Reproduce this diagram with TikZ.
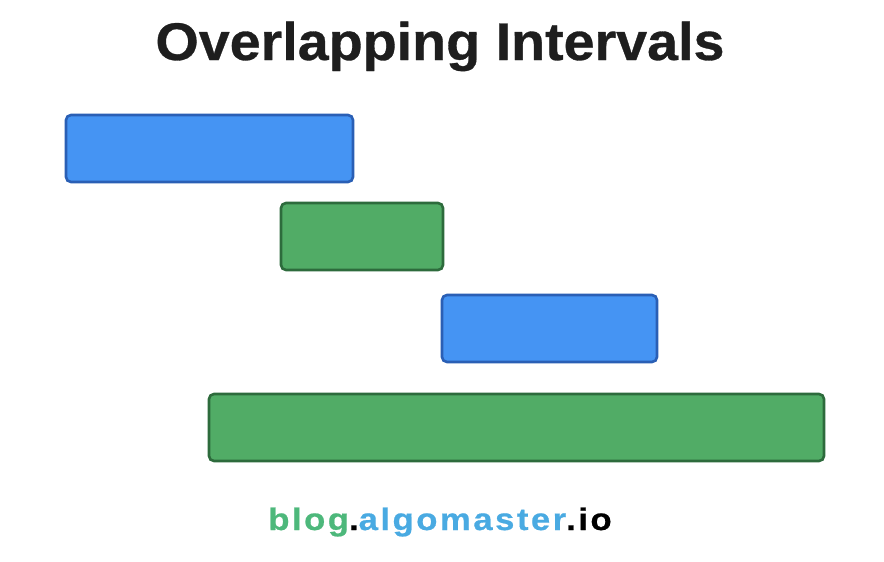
\documentclass[tikz,border=0pt]{standalone}
\usepackage{fontspec}
\setmainfont{Liberation Sans}
\newfontfamily\titlefont{Liberation Sans}[FakeStretch=1.05,FakeBold=0.6]
\newfontfamily\footfont{Liberation Sans}[LetterSpace=8,FakeStretch=1.12,FakeBold=0.6]
\definecolor{barblue}{HTML}{4594F3}
\definecolor{barblueedge}{HTML}{2A5FB5}
\definecolor{bargreen}{HTML}{51AC66}
\definecolor{bargreenedge}{HTML}{2D6B3C}
\definecolor{titlecol}{HTML}{1E1E1E}
\definecolor{footgreen}{HTML}{4DB87B}
\definecolor{footblue}{HTML}{49AAE2}
\tikzset{
  bar/.style={line width=2.6pt, rounded corners=5pt},
  bluebar/.style={bar, fill=barblue, draw=barblueedge},
  greenbar/.style={bar, fill=bargreen, draw=bargreenedge},
}
\begin{document}
\begin{tikzpicture}[x=1pt,y=-1pt]
\useasboundingbox (0,0) rectangle (884,562);
\fill[white] (0,0) rectangle (884,562);
\node[anchor=base, inner sep=0pt, text=titlecol, font=\titlefont\bfseries\fontsize{53}{60}\selectfont] (title) at (440,60) {Overlapping Intervals};
\draw[bluebar]  (66,115) rectangle (353,182);
\draw[greenbar] (281,203) rectangle (443,270);
\draw[bluebar]  (442,295) rectangle (657,362);
\draw[greenbar] (209,394) rectangle (824,461);
\node[anchor=base, inner sep=0pt, font=\footfont\bfseries\fontsize{31}{34}\selectfont] (footer) at (440,530) {\textcolor{footgreen}{blog}\textcolor{black}{.}\textcolor{footblue}{algomaster}\textcolor{black}{.io}};
\end{tikzpicture}
\end{document}
